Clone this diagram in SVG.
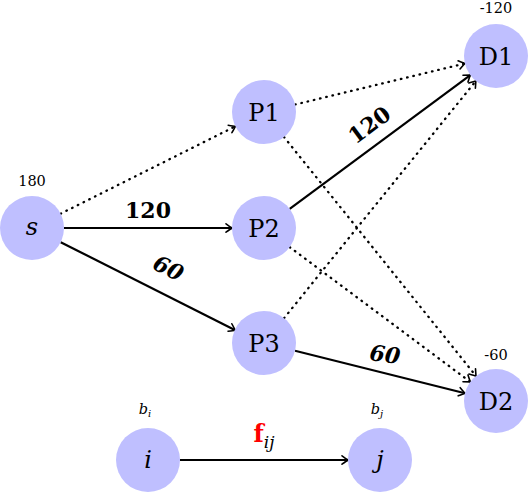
<svg xmlns="http://www.w3.org/2000/svg" width="528" height="493" viewBox="0 0 528 493">
<defs>
<marker id="arr" viewBox="-7 -5 9 10" refX="0" refY="0" markerWidth="9" markerHeight="10" markerUnits="userSpaceOnUse" orient="auto" overflow="visible">
<path d="M-6,-4.2 Q-1.5,-1 0,0 Q-1.5,1 -6,4.2" fill="none" stroke="#000" stroke-width="1.6" stroke-linecap="round" stroke-linejoin="round"/>
</marker>
<style>
text{font-family:"DejaVu Serif","Liberation Serif",serif;}
.node{fill:#bfbfff;}
.lbl{font-size:24px;text-anchor:middle;fill:#000;}
.it{font-style:italic;}
.small{font-size:14.5px;text-anchor:middle;fill:#000;}
.w{font-size:22px;font-weight:bold;text-anchor:middle;fill:#000;}
.solid{stroke:#000;stroke-width:2.2;fill:none;marker-end:url(#arr);}
.dot{stroke:#000;stroke-width:2.3;fill:none;stroke-dasharray:0.6 5.8;stroke-linecap:round;marker-end:url(#arr);}
</style>
</defs>
<rect width="528" height="493" fill="#fff"/>
<g id="connectors">
<line class="dot" x1="60.6" y1="213.7" x2="235.4" y2="126.3"/>
<line class="solid" x1="64" y1="228" x2="232" y2="228"/>
<line class="solid" x1="60.7" y1="242.2" x2="235.3" y2="330.2"/>
<line class="dot" x1="295.1" y1="104.5" x2="464.9" y2="63.5"/>
<line class="dot" x1="284.0" y1="137.0" x2="476.0" y2="376.0"/>
<line class="solid" x1="289.7" y1="208.9" x2="470.3" y2="75.1"/>
<line class="dot" x1="289.7" y1="247.1" x2="470.3" y2="381.9"/>
<line class="dot" x1="284.1" y1="318.1" x2="475.9" y2="80.9"/>
<line class="solid" x1="295.0" y1="350.8" x2="465.0" y2="393.2"/>
<line class="solid" x1="180" y1="460" x2="348" y2="460"/>
<text class="w" x="148" y="218">120</text>
<text class="w it" transform="translate(165,275) rotate(26.4)">60</text>
<text class="w" transform="translate(374,131) rotate(-36.5)">120</text>
<text class="w it" transform="translate(384,362) rotate(7.6)">60</text>
<text x="264" y="442" font-size="24" text-anchor="middle"><tspan fill="#ff0000" font-weight="bold">f</tspan><tspan font-style="italic" font-size="17" dy="6">ij</tspan></text>
</g>
<g id="s"><circle class="node" cx="32" cy="228" r="32"/><text class="lbl it" x="32" y="235">s</text><text class="small" x="32" y="186">180</text></g>
<g id="P1"><circle class="node" cx="264" cy="112" r="32"/><text class="lbl" x="264" y="121">P1</text></g>
<g id="P2"><circle class="node" cx="264" cy="228" r="32"/><text class="lbl" x="264" y="237">P2</text></g>
<g id="P3"><circle class="node" cx="264" cy="343" r="32"/><text class="lbl" x="264" y="352">P3</text></g>
<g id="D1"><circle class="node" cx="496" cy="56" r="32"/><text class="lbl" x="496" y="65">D1</text><text class="small" x="496" y="13">-120</text></g>
<g id="D2"><circle class="node" cx="496" cy="401" r="32"/><text class="lbl" x="496" y="410">D2</text><text class="small" x="496" y="360">-60</text></g>
<g id="i"><circle class="node" cx="148" cy="460" r="32"/><text class="lbl it" x="148" y="468">i</text><text class="small it" x="145" y="414">b<tspan font-size="10" dy="3">i</tspan></text></g>
<g id="j"><circle class="node" cx="380" cy="460" r="32"/><text class="lbl it" x="380" y="468">j</text><text class="small it" x="377" y="414">b<tspan font-size="10" dy="3">j</tspan></text></g>
</svg>
